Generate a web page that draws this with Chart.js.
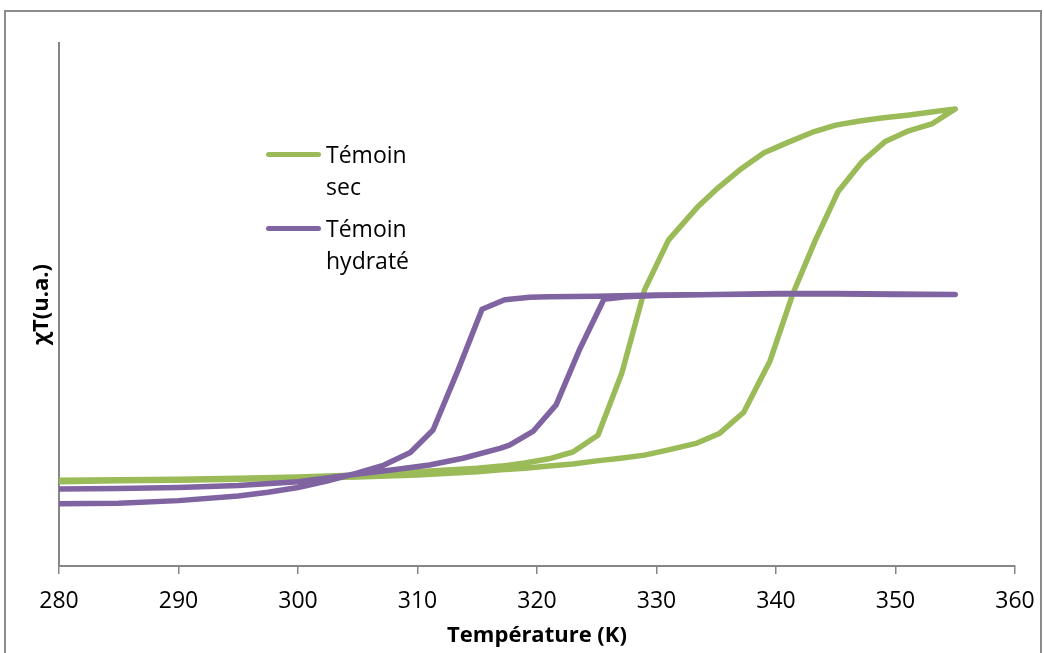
<!DOCTYPE html>
<html>
<head>
<meta charset="utf-8">
<script src="https://cdn.jsdelivr.net/npm/chart.js@4"></script>
<style>
  body { margin: 0; background: #fff; overflow: hidden; }
  #wrap { position: relative; width: 1044px; height: 653px; }
  #cadre { position: absolute; left: 4px; top: 10px; width: 1034px; height: 700px; border: 2px solid #8c8c8c; }
  #graphe { position: absolute; left: 0; top: 0; }
  #legende { position: absolute; left: 266px; top: 138px; font-family: 'Open Sans', sans-serif; font-size: 23px; line-height: 32px; color: #000; }
  .item { display: flex; align-items: flex-start; margin-bottom: 10px; }
  .trait { width: 55px; height: 5px; border-radius: 3px; margin-top: 14px; margin-right: 5px; }
  .texte { width: 90px; }
</style>
</head>
<body>
<div id="wrap">
  <div id="cadre"></div>
  <canvas id="graphe" width="1044" height="653"></canvas>
  <div id="legende"></div>
</div>
<script>
// Témoin sec : montée puis descente en température
const secMonteeT = [280, 285, 290, 295, 300, 305, 310, 315, 317, 319, 321, 323, 325, 327, 329, 331, 333.4, 335.3, 337.3, 339.5, 341.4, 343.3, 345.2, 347.2, 349.1, 351.1, 353.1, 355];
const secMonteeV = [16.1, 16.3, 16.4, 16.6, 16.8, 17.0, 17.4, 18.0, 18.4, 18.7, 19.1, 19.5, 20.1, 20.6, 21.2, 22.2, 23.5, 25.4, 29.4, 39.2, 52.0, 62.3, 71.6, 77.3, 81.1, 83.2, 84.6, 87.4];
const secDescenteT = [355, 353, 351, 349, 347, 345, 343, 341, 339, 337, 335, 333.5, 331, 329, 327.1, 325.1, 323, 321, 319, 317, 315, 310, 305, 300, 295, 290, 285, 280];
const secDescenteV = [87.4, 86.8, 86.2, 85.7, 85.1, 84.3, 82.9, 81.0, 79.0, 75.8, 72.0, 68.8, 62.3, 52.8, 36.9, 25.0, 21.8, 20.5, 19.7, 19.1, 18.7, 18.0, 17.4, 17.0, 16.8, 16.6, 16.5, 16.4];

// Témoin hydraté
const hydMonteeT = [280, 285, 290, 295, 300, 305, 308, 311, 313.8, 316.9, 317.7, 319.7, 321.6, 323.6, 325.6, 327.4, 330, 335, 340, 345, 350, 355];
const hydMonteeV = [14.7, 14.8, 15.0, 15.4, 16.1, 17.6, 18.4, 19.3, 20.6, 22.5, 23.1, 25.8, 30.8, 41.6, 51.0, 51.5, 51.7, 51.9, 52.1, 52.1, 52.0, 51.9];
const hydDescenteT = [355, 350, 345, 340, 335, 330, 325, 321, 319.4, 317.3, 315.4, 313.4, 311.3, 309.4, 307.2, 305, 302.5, 300, 297.5, 295, 290, 285, 280];
const hydDescenteV = [51.9, 51.9, 52.0, 52.0, 51.9, 51.8, 51.6, 51.5, 51.4, 50.9, 49.1, 37.5, 26.0, 21.7, 19.3, 17.8, 16.3, 15.0, 14.1, 13.4, 12.5, 12.0, 11.9];

const xTicks = [280, 290, 300, 310, 320, 330, 340, 350, 360];

function points(ts, vs) {
  return ts.map((t, i) => ({ x: t, y: vs[i] }));
}

const series = [
  { label: 'Témoin sec', couleur: '#9BBB59', data: points(secMonteeT.concat(secDescenteT), secMonteeV.concat(secDescenteV)), order: 1 },
  { label: 'Témoin hydraté', couleur: '#8064A2', data: points(hydMonteeT.concat(hydDescenteT), hydMonteeV.concat(hydDescenteV)), order: 0 }
];

const gris = '#868686';
const police = "'Open Sans', sans-serif";

new Chart(document.getElementById('graphe'), {
  type: 'scatter',
  data: {
    datasets: series.map(s => ({
      label: s.label,
      data: s.data,
      showLine: true,
      borderColor: s.couleur,
      backgroundColor: s.couleur,
      borderWidth: 5.5,
      pointRadius: 0,
      borderJoinStyle: 'round',
      borderCapStyle: 'round',
      tension: 0,
      order: s.order
    }))
  },
  options: {
    responsive: false,
    animation: false,
    layout: { padding: { left: 25, top: 43, right: 29, bottom: 0 } },
    plugins: { legend: { display: false }, tooltip: { enabled: false } },
    scales: {
      x: {
        type: 'linear',
        min: 280,
        max: 360,
        afterBuildTicks: axe => { axe.ticks = xTicks.map(v => ({ value: v })); },
        afterFit: axe => { axe.height = 87; axe.paddingLeft = 0; axe.paddingRight = 0; },
        ticks: { color: '#000', font: { family: police, size: 23 }, padding: 14, maxRotation: 0 },
        grid: { drawOnChartArea: false, drawTicks: true, tickLength: 8, color: gris, lineWidth: 1.5 },
        border: { display: true, color: gris, width: 2 },
        title: { display: true, text: 'Température (K)', color: '#000', font: { family: police, size: 22, weight: 'bold' }, padding: { top: 4, bottom: 4 } }
      },
      y: {
        min: 0,
        max: 100,
        afterFit: axe => { axe.width = 34; },
        ticks: { display: false },
        grid: { display: true, drawOnChartArea: false, drawTicks: false },
        border: { display: true, color: gris, width: 2 },
        title: { display: true, text: 'χT(u.a.)', color: '#000', font: { family: police, size: 22, weight: 'bold' }, padding: { top: 4, bottom: 4 } }
      }
    }
  }
});

// légende placée dans la zone du graphe
const legende = document.getElementById('legende');
series.forEach(s => {
  const item = document.createElement('div');
  item.className = 'item';
  item.innerHTML = `<span class="trait" style="background:${s.couleur}"></span><span class="texte">${s.label}</span>`;
  legende.appendChild(item);
});
</script>
</body>
</html>
